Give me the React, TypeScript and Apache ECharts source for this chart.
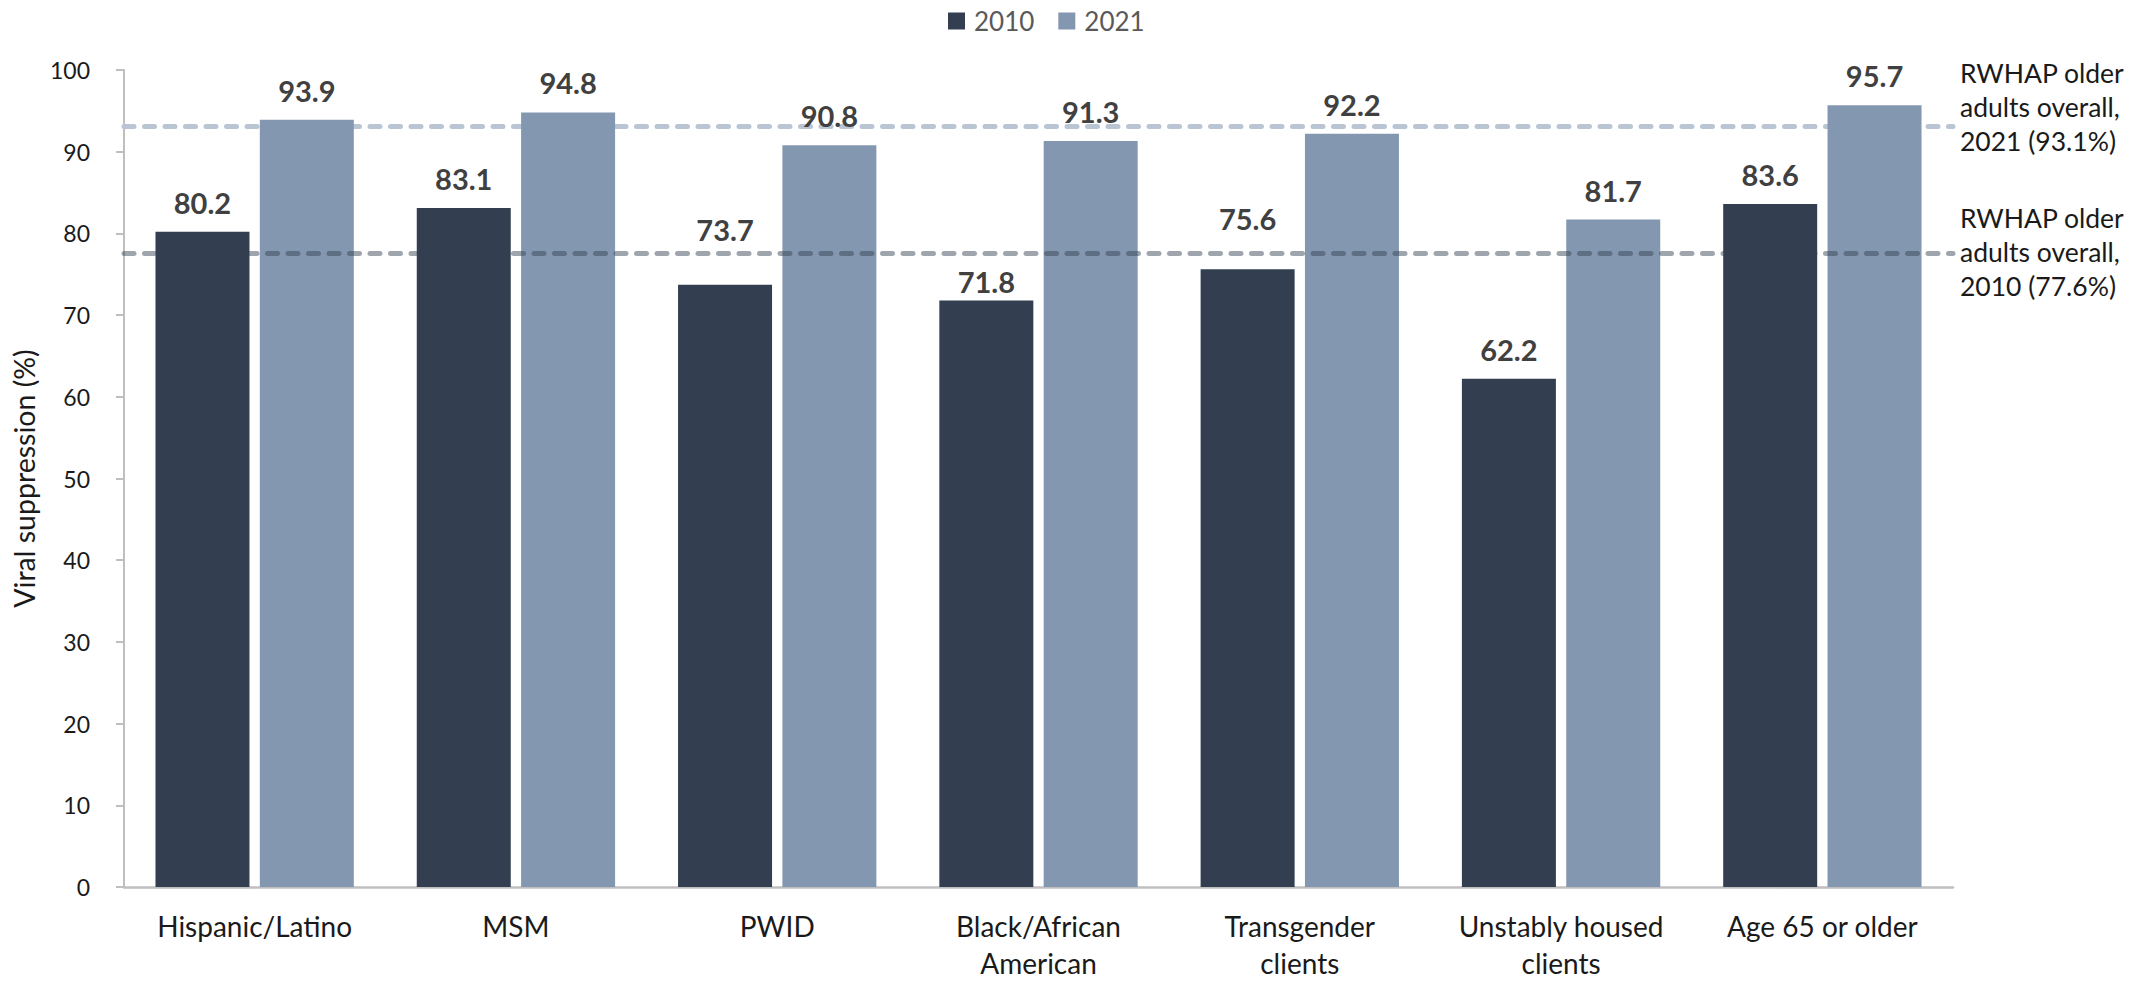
import React, { useEffect, useRef } from "react";
import * as echarts from "echarts";

const categories = [
  "Hispanic/Latino",
  "MSM",
  "PWID",
  "Black/African\nAmerican",
  "Transgender\nclients",
  "Unstably housed\nclients",
  "Age 65 or older",
];
const seriesNames = ["2010", "2021"];
const values2010 = [80.2, 83.1, 73.7, 71.8, 75.6, 62.2, 83.6];
const values2021 = [93.9, 94.8, 90.8, 91.3, 92.2, 81.7, 95.7];
const overall2010 = 77.6;
const overall2021 = 93.1;
const yMin = 0;
const yMax = 100;
const yInterval = 10;
const yAxisTitle = "Viral suppression (%)";
const note2021 = ["RWHAP older", "adults overall,", "2021 (93.1%)"];
const note2010 = ["RWHAP older", "adults overall,", "2010 (77.6%)"];
// vertical nudges (px) of the 2010 value labels, as placed in the original
const label2010Nudge = [0, 0, -26, 11, -21, 0, 0];

const FONT = "Lato, 'Open Sans', sans-serif";
const DARK = "#333f50";
const LIGHT = "#8497b0";

export default function App() {
  const ref = useRef<HTMLDivElement>(null);

  useEffect(() => {
    if (!ref.current) return;
    const chart = echarts.init(ref.current, undefined, { renderer: "svg" });

    const labelBase = {
      show: true,
      position: "top",
      distance: 15,
      fontFamily: FONT,
      fontSize: 29,
      fontWeight: "bold",
      color: "#404040",
      formatter: (p: any) => Number(p.value).toFixed(1),
    };

    const dashed = (color: string) => ({
      color,
      width: 5,
      type: [10, 10.5],
      cap: "round",
    });

    const option: any = {
      animation: false,
      backgroundColor: "#ffffff",
      textStyle: { fontFamily: FONT },
      legend: {
        data: seriesNames,
        left: 943,
        top: 3,
        itemWidth: 17,
        itemHeight: 17,
        itemGap: 24,
        icon: "rect",
        textStyle: {
          fontFamily: FONT,
          fontSize: 26,
          color: "#595959",
          padding: [0, 0, 0, 4],
        },
      },
      grid: {
        left: 124,
        right: 197,
        top: 70,
        bottom: 95,
        containLabel: false,
        outerBoundsMode: "none",
      },
      xAxis: {
        type: "category",
        data: categories,
        axisLine: { show: true, lineStyle: { color: "#bfbfbf", width: 2.5 } },
        axisTick: { show: false },
        axisLabel: {
          interval: 0,
          margin: 20,
          fontFamily: FONT,
          fontSize: 28,
          lineHeight: 37,
          color: "#1a1a1a",
        },
      },
      yAxis: {
        type: "value",
        min: yMin,
        max: yMax,
        interval: yInterval,
        name: yAxisTitle,
        nameLocation: "middle",
        nameRotate: 90,
        nameGap: 86,
        nameTextStyle: { fontFamily: FONT, fontSize: 28.5, color: "#1a1a1a" },
        splitLine: { show: false },
        axisLine: { show: true, lineStyle: { color: "#bfbfbf", width: 2 } },
        axisTick: { show: true, length: 8, lineStyle: { color: "#bfbfbf", width: 2 } },
        axisLabel: {
          margin: 34,
          fontFamily: FONT,
          fontSize: 23,
          color: "#1a1a1a",
        },
      },
      series: [
        {
          name: seriesNames[0],
          type: "bar",
          z: 2,
          barWidth: 94,
          barGap: "11%",
          itemStyle: { color: DARK },
          label: labelBase,
          data: values2010.map((v, i) => ({
            value: v,
            label: { offset: [0, label2010Nudge[i]] },
          })),
          markLine: {
            silent: true,
            symbol: "none",
            z: 5,
            label: { show: false },
            lineStyle: dashed("rgba(51,63,80,0.47)"),
            data: [{ yAxis: overall2010 }],
          },
        },
        {
          name: seriesNames[1],
          type: "bar",
          z: 2,
          barWidth: 94,
          barGap: "11%",
          itemStyle: { color: LIGHT },
          label: labelBase,
          data: values2021,
          markLine: {
            silent: true,
            symbol: "none",
            z: 1,
            label: { show: false },
            lineStyle: dashed("#bac5d3"),
            data: [{ yAxis: overall2021 }],
          },
        },
      ],
      graphic: [
        {
          type: "text",
          x: 1960,
          y: 56,
          style: {
            text: note2021.join("\n"),
            fontFamily: FONT,
            fontSize: 26.5,
            lineHeight: 34,
            fill: "#1a1a1a",
            verticalAlign: "top",
            align: "left",
          },
        },
        {
          type: "text",
          x: 1960,
          y: 201,
          style: {
            text: note2010.join("\n"),
            fontFamily: FONT,
            fontSize: 26.5,
            lineHeight: 34,
            fill: "#1a1a1a",
            verticalAlign: "top",
            align: "left",
          },
        },
      ],
    };

    chart.setOption(option);
    return () => chart.dispose();
  }, []);

  return (
    <div
      ref={ref}
      style={{ position: "fixed", left: 0, top: 0, width: 2150, height: 982, background: "#fff" }}
    />
  );
}
